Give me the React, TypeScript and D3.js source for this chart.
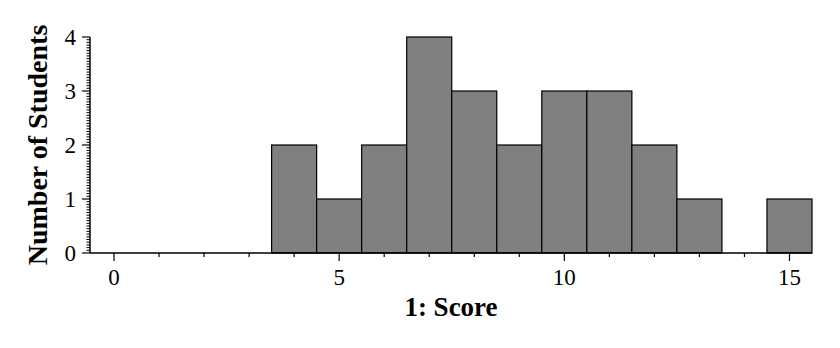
import React from "react";
import * as d3 from "d3";

const scores = [0, 1, 2, 3, 4, 5, 6, 7, 8, 9, 10, 11, 12, 13, 14, 15];
const counts = [0, 0, 0, 0, 2, 1, 2, 4, 3, 2, 3, 3, 2, 1, 0, 1];
const xMajorTicks = [0, 5, 10, 15];
const yMajorTicks = [0, 1, 2, 3, 4];
const xLabel = "1: Score";
const yLabel = "Number of Students";

export default function App() {
  const W = 840, H = 348;
  const x = d3.scaleLinear().domain([-0.533, 15.5]).range([90, 812]);
  const y = d3.scaleLinear().domain([0, 4]).range([253, 37]);
  const xMinor = d3.range(0, 16).filter((v) => !xMajorTicks.includes(v));
  const yMinor = d3.range(0, 81).map((i) => i * 0.05).filter((v) => Math.abs(v - Math.round(v)) > 1e-6);
  const font = "'Liberation Serif', 'Times New Roman', serif";
  return (
    <svg width={W} height={H} style={{ position: "absolute", left: 0, top: 0, background: "#fff" }}>
      {scores.map((s, i) =>
        counts[i] > 0 ? (
          <rect key={s} x={x(s - 0.5)} y={y(counts[i])} width={x(s + 0.5) - x(s - 0.5)} height={y(0) - y(counts[i])}
            fill="#808080" stroke="#000" strokeWidth={1.2} />
        ) : null
      )}
      {/* x axis */}
      <line x1={x(-0.533)} x2={x(15.5)} y1={y(0)} y2={y(0)} stroke="#000" strokeWidth={1.5} />
      {xMajorTicks.map((t) => (
        <g key={t}>
          <line x1={x(t)} x2={x(t)} y1={y(0)} y2={y(0) + 8} stroke="#000" strokeWidth={1.2} />
          <text x={x(t)} y={285} textAnchor="middle" fontFamily={font} fontSize={23}>{t}</text>
        </g>
      ))}
      {xMinor.map((t) => (
        <line key={t} x1={x(t)} x2={x(t)} y1={y(0)} y2={y(0) + 4} stroke="#000" strokeWidth={1.2} />
      ))}
      {/* y axis */}
      <line x1={90} x2={90} y1={y(4)} y2={y(0)} stroke="#000" strokeWidth={1.5} />
      {yMajorTicks.map((t) => (
        <g key={t}>
          <line x1={82} x2={90} y1={y(t)} y2={y(t)} stroke="#000" strokeWidth={1.2} />
          <text x={76} y={y(t) + 8} textAnchor="end" fontFamily={font} fontSize={23}>{t}</text>
        </g>
      ))}
      {yMinor.map((t) => (
        <line key={t} x1={86.5} x2={90} y1={y(t)} y2={y(t)} stroke="#000" strokeWidth={1} />
      ))}
      <text x={451} y={316} textAnchor="middle" fontFamily={font} fontWeight="bold" fontSize={27}>{xLabel}</text>
      <text transform={`translate(47,145) rotate(-90)`} textAnchor="middle" fontFamily={font} fontWeight="bold" fontSize={28}>{yLabel}</text>
    </svg>
  );
}
